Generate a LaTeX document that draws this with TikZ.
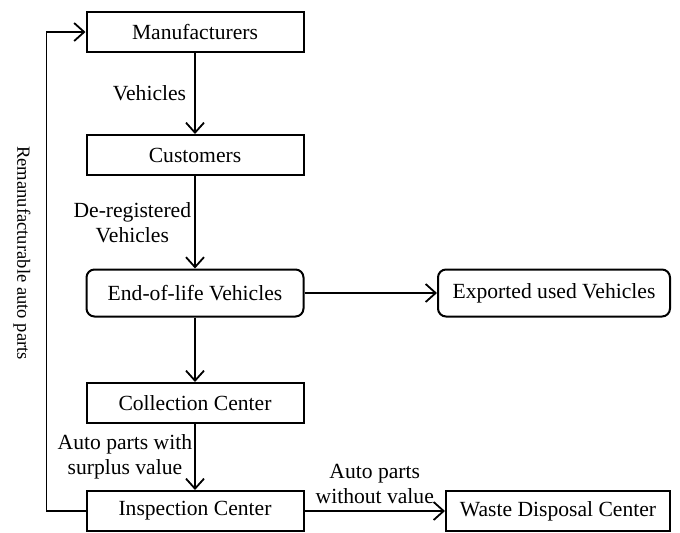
\documentclass[tikz,border=0pt]{standalone}
\usepackage{fontspec}
\setmainfont{Liberation Serif}
\usetikzlibrary{arrows.meta}
\usetikzlibrary{positioning}

\begin{document}
\begin{tikzpicture}[x=0.5pt, y=-0.5pt,
        box/.style={draw, line width=1pt, minimum width=108.5pt, minimum height=20pt,
            inner sep=0pt, font=\fontsize{10.8}{12.5}\selectfont},
        rbox/.style={box, rounded corners=4pt, minimum height=23.5pt},
        flow/.style={-{Straight Barb[length=5pt,width=9pt]}, line width=0.9pt},
        lbl/.style={align=center, inner sep=0pt, font=\fontsize{10.8}{12.5}\selectfont}]
        \useasboundingbox (0,0) rectangle (680,532);
        % Main chain
        \node[box] (manu) at (195,32) {Manufacturers};
        \node[box] (cust) at (195,155) {Customers};
        \node[rbox] (elv) at (195,293) {End-of-life Vehicles};
        \node[box] (coll) at (195,403) {Collection Center};
        \node[box] (insp) at (195,511) {Inspection Center};
        % Side boxes
        \node[rbox, minimum width=116pt] (expt) at (554,293) {Exported used Vehicles};
        \node[box, minimum width=112pt] (waste) at (558,511) {Waste Disposal Center};
        % Flows
        \draw[flow] (manu) -- (cust) node[midway, lbl, left=4pt] (lveh) {Vehicles};
        \draw[flow] (cust) -- (elv) node[midway, lbl, left=1.5pt] (ldereg) {De-registered\\Vehicles};
        \draw[flow] (elv) -- (expt);
        \draw[flow] (elv) -- (coll);
        \draw[flow] (coll) -- (insp) node[midway, lbl, left=1pt] (lsurp) {Auto parts with\\surplus value};
        \draw[flow] (insp) -- (waste) node[midway, lbl, above=3pt] (lnoval) {Auto parts\\without value};
        % Feedback to manufacturers
        \draw[flow] (insp.west) -- ++(-39,0) |- (manu.west);
        \node[lbl, rotate=-90, font=\fontsize{9.3}{11}\selectfont] (lreman) at (22,253) {Remanufacturable auto parts};
\end{tikzpicture}
\end{document}
